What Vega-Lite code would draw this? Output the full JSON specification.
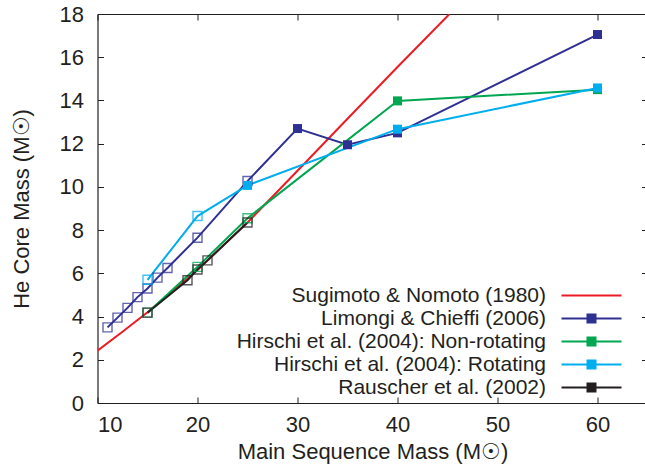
{
  "$schema": "https://vega.github.io/schema/vega-lite/v6.json",
  "width": 550,
  "height": 389,
  "autosize": "none",
  "padding": {"left": 97.5, "top": 14, "right": 0, "bottom": 69},
  "background": "white",
  "config": {
    "view": {"stroke": null},
    "font": "Liberation Sans",
    "axis": {"grid": false, "domainColor": "#231f20", "tickColor": "#231f20", "labelColor": "#231f20", "titleColor": "#231f20", "labelFontSize": 22, "titleFontSize": 22, "titleFontWeight": "normal", "labelFont": "Liberation Sans", "titleFont": "Liberation Sans", "tickSize": -6, "domainWidth": 1.2, "tickWidth": 1}
  },
  "data": {
    "values": [
      {"s": "Sugimoto & Nomoto (1980)", "m": 10, "v": 2.42, "f": null},
      {"s": "Sugimoto & Nomoto (1980)", "m": 12.5, "v": 3.3, "f": null},
      {"s": "Sugimoto & Nomoto (1980)", "m": 15, "v": 4.2, "f": null},
      {"s": "Sugimoto & Nomoto (1980)", "m": 20, "v": 6.15, "f": null},
      {"s": "Sugimoto & Nomoto (1980)", "m": 25, "v": 8.35, "f": null},
      {"s": "Sugimoto & Nomoto (1980)", "m": 30, "v": 10.75, "f": null},
      {"s": "Sugimoto & Nomoto (1980)", "m": 35, "v": 13.15, "f": null},
      {"s": "Sugimoto & Nomoto (1980)", "m": 40, "v": 15.55, "f": null},
      {"s": "Sugimoto & Nomoto (1980)", "m": 45.2, "v": 18, "f": null},
      {"s": "Limongi & Chieffi (2006)", "m": 11, "v": 3.5, "f": false},
      {"s": "Limongi & Chieffi (2006)", "m": 12, "v": 3.95, "f": false},
      {"s": "Limongi & Chieffi (2006)", "m": 13, "v": 4.4, "f": false},
      {"s": "Limongi & Chieffi (2006)", "m": 14, "v": 4.9, "f": false},
      {"s": "Limongi & Chieffi (2006)", "m": 15, "v": 5.3, "f": false},
      {"s": "Limongi & Chieffi (2006)", "m": 16, "v": 5.8, "f": false},
      {"s": "Limongi & Chieffi (2006)", "m": 17, "v": 6.25, "f": false},
      {"s": "Limongi & Chieffi (2006)", "m": 20, "v": 7.65, "f": false},
      {"s": "Limongi & Chieffi (2006)", "m": 25, "v": 10.27, "f": false},
      {"s": "Limongi & Chieffi (2006)", "m": 30, "v": 12.7, "f": true},
      {"s": "Limongi & Chieffi (2006)", "m": 35, "v": 11.95, "f": true},
      {"s": "Limongi & Chieffi (2006)", "m": 40, "v": 12.5, "f": true},
      {"s": "Limongi & Chieffi (2006)", "m": 60, "v": 17.05, "f": true},
      {"s": "Hirschi et al. (2004): Non-rotating", "m": 15, "v": 4.18, "f": false},
      {"s": "Hirschi et al. (2004): Non-rotating", "m": 20, "v": 6.3, "f": false},
      {"s": "Hirschi et al. (2004): Non-rotating", "m": 25, "v": 8.55, "f": false},
      {"s": "Hirschi et al. (2004): Non-rotating", "m": 40, "v": 13.98, "f": true},
      {"s": "Hirschi et al. (2004): Non-rotating", "m": 60, "v": 14.5, "f": true},
      {"s": "Hirschi et al. (2004): Rotating", "m": 15, "v": 5.7, "f": false},
      {"s": "Hirschi et al. (2004): Rotating", "m": 20, "v": 8.65, "f": false},
      {"s": "Hirschi et al. (2004): Rotating", "m": 25, "v": 10.07, "f": true},
      {"s": "Hirschi et al. (2004): Rotating", "m": 40, "v": 12.67, "f": true},
      {"s": "Hirschi et al. (2004): Rotating", "m": 60, "v": 14.58, "f": true},
      {"s": "Rauscher et al. (2002)", "m": 15, "v": 4.18, "f": false},
      {"s": "Rauscher et al. (2002)", "m": 19, "v": 5.68, "f": false},
      {"s": "Rauscher et al. (2002)", "m": 20, "v": 6.18, "f": false},
      {"s": "Rauscher et al. (2002)", "m": 21, "v": 6.6, "f": false},
      {"s": "Rauscher et al. (2002)", "m": 25, "v": 8.35, "f": false}
    ]
  },
  "layer": [
    {
      "layer": [
        {
          "mark": {"type": "line", "strokeWidth": 2, "clip": true},
          "encoding": {
            "x": {"field": "m", "type": "quantitative", "scale": {"domain": [10, 65], "nice": false}, "axis": {"values": [10, 20, 30, 40, 50, 60], "labelPadding": 17, "title": "Main Sequence Mass (M☉)", "titlePadding": 6}},
            "y": {"field": "v", "type": "quantitative", "scale": {"domain": [0, 18], "nice": false}, "axis": {"values": [0, 2, 4, 6, 8, 10, 12, 14, 16, 18], "labelPadding": 20, "title": "He Core Mass (M☉)", "titlePadding": 26}},
            "color": {
              "field": "s", "type": "nominal",
              "scale": {"domain": ["Sugimoto & Nomoto (1980)", "Limongi & Chieffi (2006)", "Hirschi et al. (2004): Non-rotating", "Hirschi et al. (2004): Rotating", "Rauscher et al. (2002)"], "range": ["#ed1c24", "#2e3192", "#00a650", "#00aeef", "#231f20"]},
              "legend": {
                "orient": "none", "legendX": 483.5, "legendY": 271, "title": null, "padding": 0,
                "labelFontSize": 21, "labelFont": "Liberation Sans", "labelColor": "#231f20", "labelAlign": "right", "labelOffset": -56, "labelLimit": 0,
                "symbolSize": 64, "symbolStrokeWidth": 2, "rowPadding": 1,
                "encode": {
                  "symbols": {
                    "update": {
                      "shape": {"signal": "datum.value === 'Sugimoto & Nomoto (1980)' ? 'M-7.5,0H7.5' : 'M-7.5,0H7.5M-1,-1H1V1H-1Z'"},
                      "fill": {"scale": "color", "field": "value"},
                      "stroke": {"scale": "color", "field": "value"},
                      "strokeWidth": {"value": 2},
                      "opacity": {"value": 1}
                    }
                  }
                }
              }
            }
          }
        },
        {
          "transform": [{"filter": "datum.f === false"}],
          "mark": {"type": "point", "shape": "square", "size": 81, "filled": false, "strokeWidth": 1.4, "opacity": 0.75},
          "encoding": {
            "x": {"field": "m", "type": "quantitative"},
            "y": {"field": "v", "type": "quantitative"},
            "color": {"field": "s", "type": "nominal"}
          }
        },
        {
          "transform": [{"filter": "datum.f === true"}],
          "mark": {"type": "point", "shape": "square", "size": 81, "filled": true, "opacity": 1},
          "encoding": {
            "x": {"field": "m", "type": "quantitative"},
            "y": {"field": "v", "type": "quantitative"},
            "color": {"field": "s", "type": "nominal"}
          }
        }
      ]
    },
    {
      "mark": {"type": "point", "opacity": 0},
      "encoding": {
        "x": {"field": "m", "type": "quantitative", "axis": {"orient": "top", "values": [10, 20, 30, 40, 50, 60], "labels": false, "title": null}},
        "y": {"field": "v", "type": "quantitative", "axis": {"orient": "right", "values": [0, 2, 4, 6, 8, 10, 12, 14, 16, 18], "labels": false, "title": null}}
      }
    }
  ],
  "resolve": {"axis": {"x": "independent", "y": "independent"}}
}
